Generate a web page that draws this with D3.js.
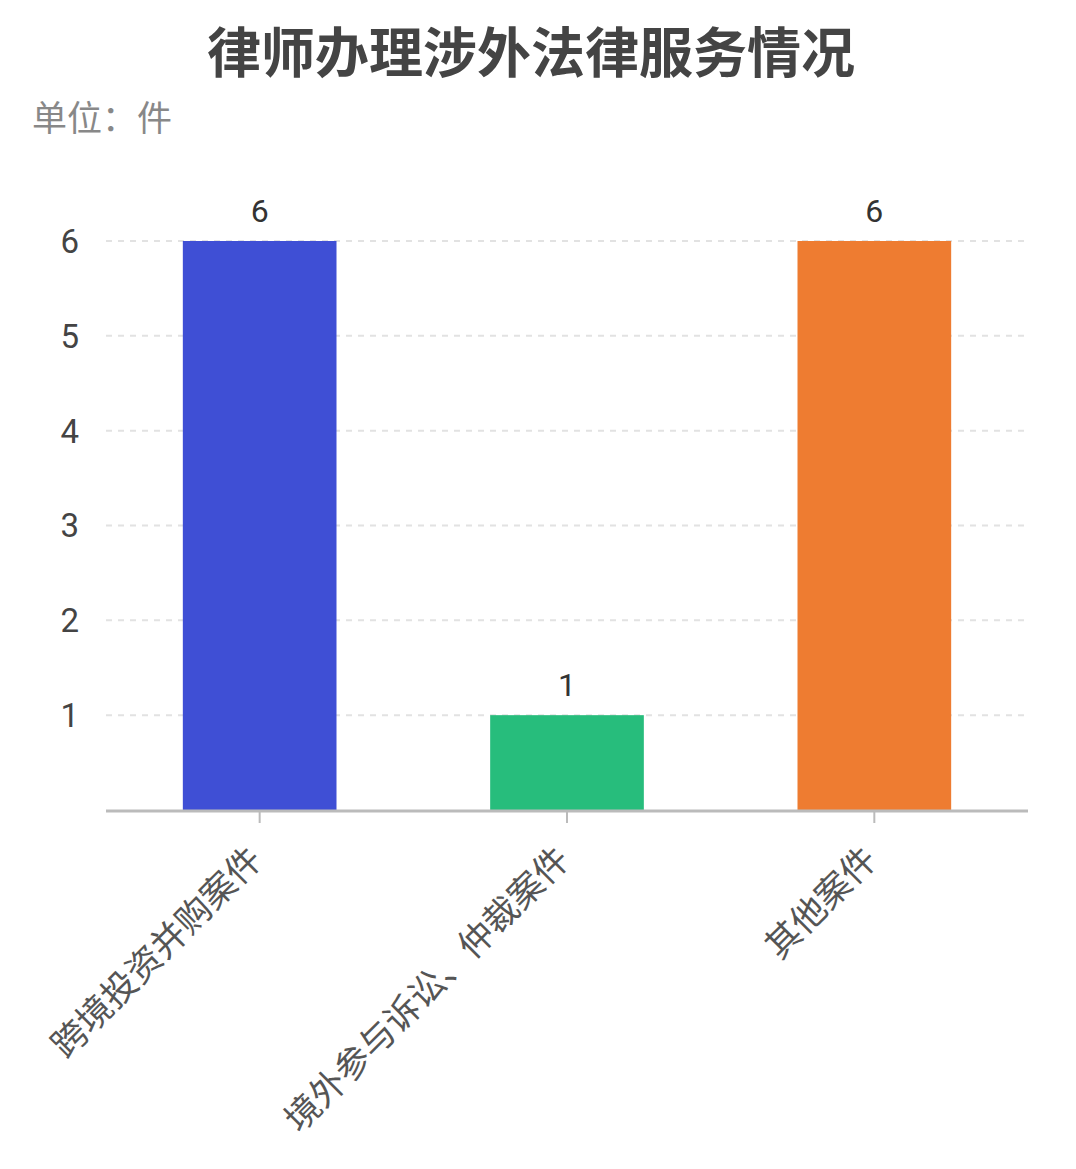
<!DOCTYPE html>
<html>
<head>
<meta charset="utf-8">
<script src="https://d3js.org/d3.v7.min.js"></script>
<style>
  body { margin: 0; background: #fff; }
  text { font-family: Roboto, "Noto Sans CJK SC", sans-serif; }
  .cjk { font-family: "Noto Sans CJK SC", sans-serif; }
</style>
</head>
<body>
<svg id="chart" width="1076" height="1169"></svg>
<script>
// chart data
var categories = ["跨境投资并购案件", "境外参与诉讼、仲裁案件", "其他案件"];
var values = [6, 1, 6];
var barColors = ["#3f4fd5", "#27bd7c", "#ee7c31"];
var yTicks = [1, 2, 3, 4, 5, 6];

var svg = d3.select("#chart");
svg.append("rect").attr("width", 1076).attr("height", 1169).attr("fill", "#fff");

var plotLeft = 106, plotRight = 1028, plotTop = 241, plotBottom = 810;

var xs = d3.scaleBand()
  .domain(categories)
  .range([plotLeft, plotRight])
  .paddingInner(0.5)
  .paddingOuter(0.25);

var ys = d3.scaleLinear()
  .domain([0, 6])
  .range([plotBottom, plotTop]);

// title + unit
svg.append("text")
  .attr("class", "cjk")
  .attr("x", 531).attr("y", 73)
  .attr("text-anchor", "middle")
  .attr("font-size", "54px")
  .attr("font-weight", "bold")
  .attr("fill", "#444")
  .text("律师办理涉外法律服务情况");

svg.append("text")
  .attr("class", "cjk")
  .attr("x", 32).attr("y", 131)
  .attr("font-size", "35px")
  .attr("fill", "#888")
  .text("单位：件");

// dashed grid lines
svg.append("g")
  .selectAll("line")
  .data(yTicks)
  .enter().append("line")
  .attr("x1", plotLeft).attr("x2", plotRight)
  .attr("y1", function(d) { return ys(d); })
  .attr("y2", function(d) { return ys(d); })
  .attr("stroke", "#e2e2e2")
  .attr("stroke-width", 2)
  .attr("stroke-dasharray", "6,6");

// y labels
svg.append("g")
  .selectAll("text")
  .data(yTicks)
  .enter().append("text")
  .attr("x", 79)
  .attr("y", function(d) { return ys(d); })
  .attr("dy", "0.36em")
  .attr("text-anchor", "end")
  .attr("font-size", "33px")
  .attr("fill", "#444")
  .text(function(d) { return d; });

// bars
svg.append("g")
  .selectAll("rect")
  .data(values)
  .enter().append("rect")
  .attr("x", function(d, i) { return xs(categories[i]); })
  .attr("y", function(d) { return ys(d); })
  .attr("width", xs.bandwidth())
  .attr("height", function(d) { return plotBottom - ys(d); })
  .attr("fill", function(d, i) { return barColors[i]; });

// value labels
svg.append("g")
  .selectAll("text")
  .data(values)
  .enter().append("text")
  .attr("x", function(d, i) { return xs(categories[i]) + xs.bandwidth() / 2; })
  .attr("y", function(d) { return ys(d) - 19; })
  .attr("text-anchor", "middle")
  .attr("font-size", "32px")
  .attr("fill", "#333")
  .text(function(d) { return d; });

// x axis line and ticks
svg.append("line")
  .attr("x1", plotLeft).attr("x2", plotRight)
  .attr("y1", plotBottom + 1).attr("y2", plotBottom + 1)
  .attr("stroke", "#bbb")
  .attr("stroke-width", 3);

svg.append("g")
  .selectAll("line")
  .data(categories)
  .enter().append("line")
  .attr("x1", function(d) { return xs(d) + xs.bandwidth() / 2; })
  .attr("x2", function(d) { return xs(d) + xs.bandwidth() / 2; })
  .attr("y1", plotBottom + 1).attr("y2", plotBottom + 13)
  .attr("stroke", "#bbb")
  .attr("stroke-width", 2);

// rotated category labels
svg.append("g")
  .selectAll("text")
  .data(categories)
  .enter().append("text")
  .attr("class", "cjk")
  .attr("transform", function(d) {
    var cx = xs(d) + xs.bandwidth() / 2;
    return "translate(" + (cx - 4) + "," + (plotBottom + 43) + ") rotate(-45)";
  })
  .attr("text-anchor", "end")
  .attr("dy", "0.35em")
  .attr("font-size", "35px")
  .attr("fill", "#555")
  .text(function(d) { return d; });
</script>
</body>
</html>
